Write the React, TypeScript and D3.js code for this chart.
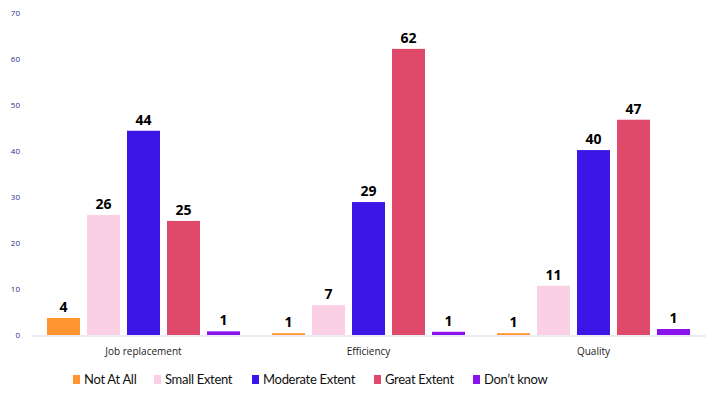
import React, { useEffect, useRef } from 'react';
import * as d3 from 'd3';

// chart data
const categories = ['Job replacement', 'Efficiency', 'Quality'];
const seriesNames = ['Not At All', 'Small Extent', 'Moderate Extent', 'Great Extent', "Don\u2019t know"];
const notAtAll = [3.7, 0.4, 0.4];
const smallExtent = [26.1, 6.5, 10.7];
const moderateExtent = [44.4, 28.9, 40.2];
const greatExtent = [24.8, 62.2, 46.8];
const dontKnow = [0.8, 0.7, 1.3];
const notAtAllLabels = ['4', '1', '1'];
const smallExtentLabels = ['26', '7', '11'];
const moderateExtentLabels = ['44', '29', '40'];
const greatExtentLabels = ['25', '62', '47'];
const dontKnowLabels = ['1', '1', '1'];
const yTicks = [0, 10, 20, 30, 40, 50, 60, 70];
const colors = ['#ff9430', '#fbd0e4', '#3b16e6', '#df4a6a', '#8a12ea'];

const seriesValues = [notAtAll, smallExtent, moderateExtent, greatExtent, dontKnow];
const seriesLabels = [notAtAllLabels, smallExtentLabels, moderateExtentLabels, greatExtentLabels, dontKnowLabels];

const width = 711;
const height = 399;
const margin = { top: 13, right: 5, bottom: 64, left: 31 };

export default function App() {
  const node = useRef<SVGSVGElement>(null);

  useEffect(() => {
    const svg = d3.select(node.current);
    svg.selectAll('*').remove();

    const x0 = d3.scaleBand()
      .domain(categories)
      .range([margin.left, width - margin.right])
      .padding(0);

    const x1 = d3.scaleBand()
      .domain(seriesNames)
      .range([0, x0.bandwidth()])
      .paddingInner(0.175)
      .paddingOuter(0.4);

    const y = d3.scaleLinear()
      .domain([0, 70])
      .range([height - margin.bottom, margin.top]);

    const color = d3.scaleOrdinal<string, string>().domain(seriesNames).range(colors);

    // y axis labels
    svg.append('g')
      .selectAll('text')
      .data(yTicks)
      .enter().append('text')
      .attr('x', 20)
      .attr('y', d => y(d))
      .attr('dy', '0.35em')
      .attr('text-anchor', 'end')
      .style('font', '8px "Open Sans", sans-serif')
      .attr('fill', '#2c2c8c')
      .text(d => d);

    // baseline
    svg.append('line')
      .attr('x1', margin.left)
      .attr('x2', width - margin.right)
      .attr('y1', y(0) + 1)
      .attr('y2', y(0) + 1)
      .attr('stroke', '#ececf6')
      .attr('stroke-width', 2);

    // bars
    const rows = categories.map((c, ci) => ({
      category: c,
      items: seriesNames.map((s, si) => ({ series: s, value: seriesValues[si][ci], label: seriesLabels[si][ci] })),
    }));

    const group = svg.append('g')
      .selectAll('g')
      .data(rows)
      .enter().append('g')
      .attr('transform', d => 'translate(' + x0(d.category) + ',0)');

    group.selectAll('rect')
      .data(d => d.items)
      .enter().append('rect')
      .attr('x', d => x1(d.series) as number)
      .attr('y', d => y(d.value))
      .attr('width', x1.bandwidth())
      .attr('height', d => y(0) - y(d.value))
      .attr('fill', d => color(d.series));

    group.selectAll('text.value')
      .data(d => d.items)
      .enter().append('text')
      .attr('class', 'value')
      .attr('x', d => (x1(d.series) as number) + x1.bandwidth() / 2)
      .attr('y', d => y(d.value) - 6)
      .attr('text-anchor', 'middle')
      .style('font', 'bold 14px "Open Sans", sans-serif')
      .attr('fill', '#000')
      .text(d => d.label);

    // category labels
    svg.append('g')
      .selectAll('text')
      .data(categories)
      .enter().append('text')
      .attr('x', d => (x0(d) as number) + x0.bandwidth() / 2)
      .attr('y', 355)
      .attr('text-anchor', 'middle')
      .style('font', '10px "Open Sans", sans-serif')
      .attr('fill', '#222')
      .text(d => d);

    // legend
    const legendX = [73, 154, 252, 374, 473];
    const legend = svg.append('g')
      .selectAll('g')
      .data(seriesNames)
      .enter().append('g')
      .attr('transform', (d, i) => 'translate(' + legendX[i] + ',375)');

    legend.append('rect')
      .attr('width', 7)
      .attr('height', 9)
      .attr('fill', d => color(d));

    legend.append('text')
      .attr('x', 11)
      .attr('y', 9)
      .style('font', '13px Lato, sans-serif')
      .style('letter-spacing', '-0.3px')
      .attr('fill', '#111')
      .text(d => d);
  }, []);

  return (
    <svg ref={node} width={width} height={height}
      style={{ position: 'absolute', left: 0, top: 0, background: '#fff' }} />
  );
}
